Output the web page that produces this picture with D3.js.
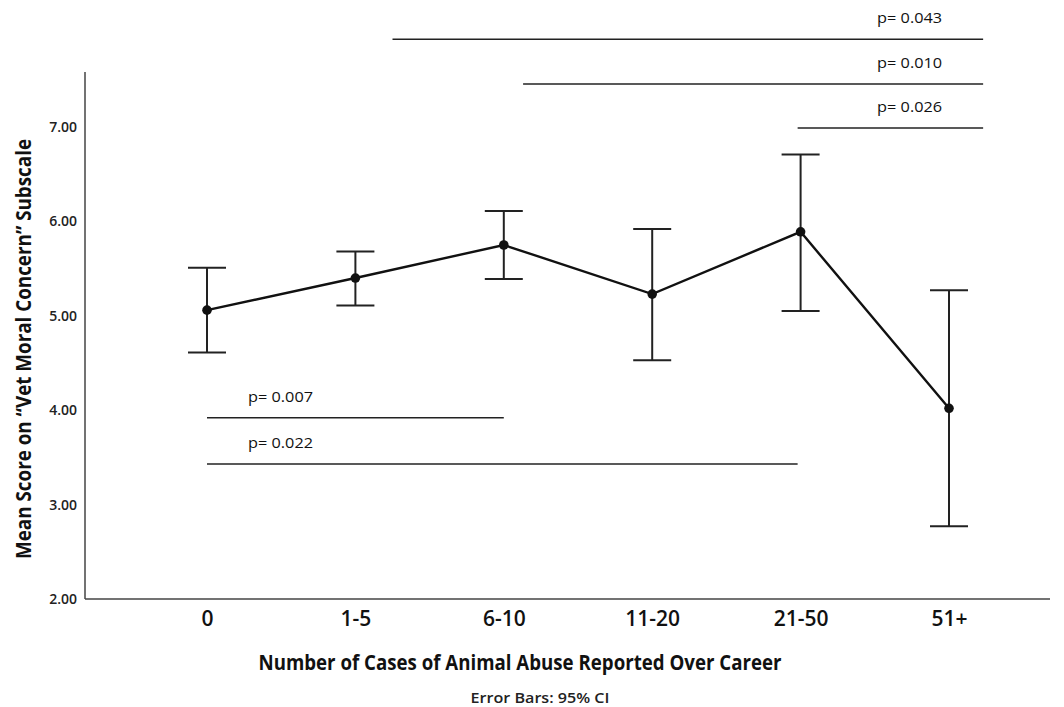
<!DOCTYPE html>
<html><head><meta charset="utf-8">
<script src="https://cdn.jsdelivr.net/npm/d3@7"></script>
<style>body{margin:0;background:#fff}svg{display:block}</style>
</head><body>
<svg id="c" width="1064" height="707"></svg>
<script>
const categories = ["0","1-5","6-10","11-20","21-50","51+"];
const means = [5.06, 5.40, 5.75, 5.23, 5.89, 4.02];
const ciLow = [4.61, 5.11, 5.39, 4.53, 5.05, 2.77];
const ciHigh = [5.51, 5.68, 6.11, 5.92, 6.71, 5.27];
const yTicks = [2, 3, 4, 5, 6, 7];
// significance brackets: start/end in category-index units, level in y units, label
const sigLabels = ["p= 0.043", "p= 0.010", "p= 0.026", "p= 0.007", "p= 0.022"];
const sigStart = [1.25, 2.13, 3.98, 0, 0];
const sigEnd = [5.23, 5.23, 5.23, 2.0, 3.98];
const sigLevel = [7.93, 7.455, 6.99, 3.92, 3.43];

const svg = d3.select("#c");
const font = "'Open Sans',sans-serif";
const x = d3.scalePoint().domain(categories).range([207, 949]);
const xi = d3.scaleLinear().domain([0, categories.length - 1]).range([207, 949]);
const y = d3.scaleLinear().domain([2, 7]).range([599, 127]);

// axes
const yAxis = svg.append("g").attr("transform", "translate(85,0)")
  .call(d3.axisLeft(y).tickValues(yTicks).tickFormat(d3.format(".2f")).tickSize(0).tickPadding(8));
yAxis.select(".domain").remove();
yAxis.selectAll("text").attr("font-family", font).attr("font-size", 14).attr("font-weight", 600).attr("fill", "#222");
svg.append("line").attr("x1", 85).attr("x2", 85).attr("y1", 72).attr("y2", y(2)).attr("stroke", "#444").attr("stroke-width", 1.5);
svg.append("line").attr("x1", 85).attr("x2", 1050).attr("y1", y(2)).attr("y2", y(2)).attr("stroke", "#444").attr("stroke-width", 1.5);

const xAxis = svg.append("g").attr("transform", `translate(0,${y(2)})`)
  .call(d3.axisBottom(x).tickSize(0));
xAxis.select(".domain").remove();
xAxis.selectAll("text").attr("dy", null).attr("y", 27)
  .attr("font-family", font).attr("font-size", 21).attr("font-weight", 600).attr("fill", "#111");

// error bars
const cap = 19;
const eb = svg.append("g").attr("stroke", "#222").attr("stroke-width", 2);
categories.forEach((c, i) => {
  eb.append("line").attr("x1", x(c)).attr("x2", x(c)).attr("y1", y(ciLow[i])).attr("y2", y(ciHigh[i]));
  eb.append("line").attr("x1", x(c) - cap).attr("x2", x(c) + cap).attr("y1", y(ciLow[i])).attr("y2", y(ciLow[i]));
  eb.append("line").attr("x1", x(c) - cap).attr("x2", x(c) + cap).attr("y1", y(ciHigh[i])).attr("y2", y(ciHigh[i]));
});

// mean line
svg.append("path").datum(means)
  .attr("d", d3.line().x((d, i) => x(categories[i])).y(d => y(d)))
  .attr("fill", "none").attr("stroke", "#111").attr("stroke-width", 2.4);
svg.append("g").selectAll("circle").data(means).join("circle")
  .attr("cx", (d, i) => x(categories[i])).attr("cy", d => y(d)).attr("r", 4.8).attr("fill", "#111");

// significance lines
const sg = svg.append("g");
sigLabels.forEach((lab, i) => {
  sg.append("line").attr("x1", xi(sigStart[i])).attr("x2", xi(sigEnd[i]))
    .attr("y1", y(sigLevel[i])).attr("y2", y(sigLevel[i])).attr("stroke", "#222").attr("stroke-width", 1.6);
  const tx = i < 3 ? xi(sigEnd[i]) - 106 : xi(sigStart[i]) + 41;
  sg.append("text").attr("x", tx).attr("y", y(sigLevel[i]) - 16).attr("font-family", font)
    .attr("font-size", 15).attr("font-weight", 500).attr("fill", "#111")
    .attr("textLength", 65).attr("lengthAdjust", "spacingAndGlyphs").text(lab);
});

// titles
svg.append("text").attr("x", 520).attr("y", 670).attr("text-anchor", "middle")
  .attr("font-family", font).attr("font-size", 21).attr("font-weight", 700).attr("fill", "#111")
  .attr("textLength", 523).attr("lengthAdjust", "spacingAndGlyphs")
  .text("Number of Cases of Animal Abuse Reported Over Career");
svg.append("text").attr("x", 540).attr("y", 703).attr("text-anchor", "middle")
  .attr("font-family", font).attr("font-size", 15).attr("font-weight", 600).attr("fill", "#222")
  .attr("textLength", 139).attr("lengthAdjust", "spacingAndGlyphs")
  .text("Error Bars: 95% CI");
svg.append("text").attr("transform", "translate(31,349) rotate(-90)").attr("text-anchor", "middle")
  .attr("font-family", font).attr("font-size", 22).attr("font-weight", 700).attr("fill", "#111")
  .attr("textLength", 420).attr("lengthAdjust", "spacingAndGlyphs")
  .text("Mean Score on \u201CVet Moral Concern\u201D Subscale");
</script>
</body></html>
